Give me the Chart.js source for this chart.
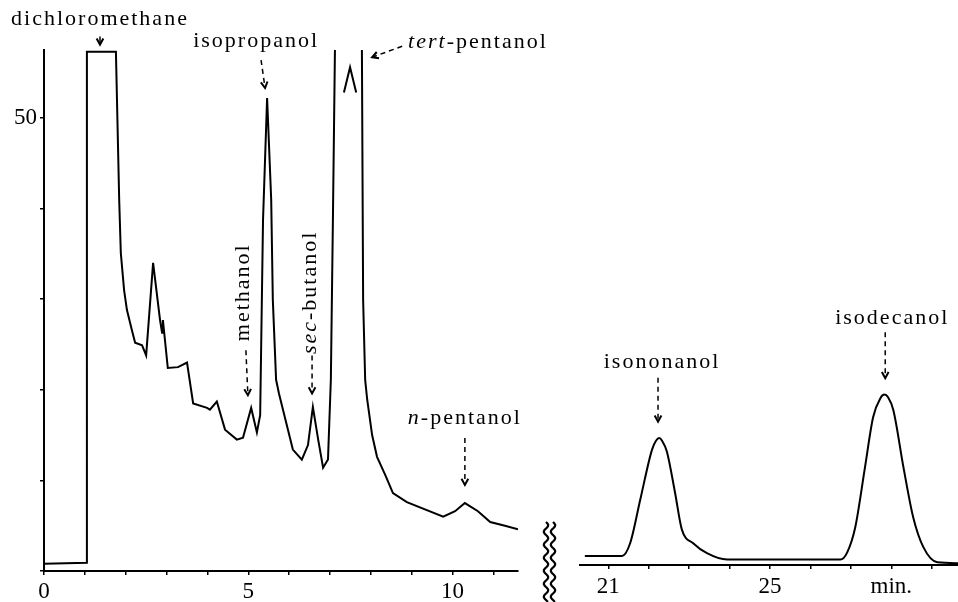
<!DOCTYPE html>
<html lang="en">
<head>
<meta charset="UTF-8">
<title>Gas chromatogram of alcohols</title>
<script src="https://cdn.jsdelivr.net/npm/chart.js@4.4.0/dist/chart.umd.min.js"></script>
<style>
    body { margin: 0; background: #fff; }
    #wrap { position: relative; width: 958px; height: 602px; overflow: hidden; }
    .box { position: absolute; top: 0; }
    #leftBox { left: 0; }
    #rightBox { left: 560px; }
</style>
</head>
<body>
<div id="wrap">
    <div class="box" id="leftBox"><canvas id="leftChart" width="560" height="602"></canvas></div>
    <div class="box" id="rightBox"><canvas id="rightChart" width="398" height="602"></canvas></div>
</div>

<script>
    // retention time (min) and detector signal, first part of the run
    const leftTime = [0, 1.05, 1.05, 1.76, 1.84, 1.88, 1.96, 2.03, 2.15, 2.23, 2.40, 2.50, 2.67, 2.84, 2.89, 2.91,
        3.03, 3.28, 3.50, 3.65, 3.99, 4.06, 4.23, 4.43, 4.72, 4.87, 5.07, 5.21, 5.29, 5.36, 5.46, 5.56, 5.60,
        5.68, 5.75, 6.09, 6.31, 6.46, 6.58, 6.71, 6.83, 6.95, 7.02, 7.07, 7.12, 7.13, 7.76, 7.78, 7.81, 7.86,
        7.91, 8.03, 8.15, 8.35, 8.54, 8.88, 9.77, 10.06, 10.30, 10.62, 10.92, 11.28, 11.60];
    const leftSignal = [0.8, 0.9, 57.3, 57.3, 41.0, 35.1, 31.0, 28.8, 26.6, 25.2, 24.9, 23.8, 34.0, 27.7, 26.3, 27.7,
        22.4, 22.5, 23.0, 18.5, 18.0, 17.8, 18.7, 15.6, 14.5, 14.7, 18.0, 15.3, 17.2, 38.7, 52.2, 41.0, 29.9,
        21.1, 19.6, 13.4, 12.3, 13.9, 18.1, 14.5, 11.4, 12.3, 21.1, 38.7, 57.5, 64, 64, 57.5, 29.9, 21.1,
        18.9, 15.0, 12.6, 10.6, 8.6, 7.6, 6.0, 6.6, 7.5, 6.6, 5.4, 5.0, 4.6];

    // pen return mark inside the off-scale tert-pentanol peak
    const penTime = [7.34, 7.49, 7.64];
    const penSignal = [52.8, 55.6, 52.8];

    // second part of the run, after the axis break
    const rightTime = [20.42, 21.34, 21.54, 21.79, 22.08, 22.18, 22.26, 22.33, 22.45, 22.65, 22.82, 23.10, 23.44,
        23.94, 26.74, 26.91, 27.11, 27.35, 27.55, 27.73, 27.83, 27.92, 28.05, 28.30, 28.54, 28.79, 29.14, 29.66];
    const rightSignal = [1.0, 1.0, 2.4, 7.2, 12.7, 13.7, 14.0, 13.7, 12.5, 8.0, 3.9, 2.4, 1.3,
        0.6, 0.6, 1.4, 4.2, 10.8, 16.3, 18.4, 18.8, 18.5, 17.1, 10.8, 5.3, 2.0, 0.3, 0.2];

    // ticks
    const leftXTicks = [0, 1, 2, 3, 4, 5, 6, 7, 8, 9, 10, 11];
    const leftXLabelAt = [0, 5, 10];
    const leftXLabels = ['0', '5', '10'];
    const rightXTicks = [21, 22, 23, 24, 25, 26, 27, 28, 29];
    const rightXLabelAt = [21, 25, 28];
    const rightXLabels = ['21', '25', 'min.'];
    const yTicks = [0, 10, 20, 30, 40, 50];
    const yLabelAt = [50];
    const yLabels = ['50'];

    const FONT_FAMILY = '"Liberation Serif", "DejaVu Serif", serif';
    Chart.defaults.font.family = FONT_FAMILY;
    Chart.defaults.color = '#000';

    // peak annotations: arrow tip in data units, tail and text offsets in px
    const leftNotes = [
        { parts: [['dichloromethane']], x: 1.37, y: 58.1, tail: [0, -8], text: [0, -25], solid: true },
        { parts: [['isopropanol']], x: 5.41, y: 53.3, tail: [-4, -28], text: [-9, -47] },
        { parts: [['tert', true], ['-pentanol']], x: 8.03, y: 56.7, tail: [30, -11], text: [36, -15], align: 'left' },
        { parts: [['methanol']], x: 4.99, y: 19.4, tail: [-2, -45], text: [-5, -103], rotate: true },
        { parts: [['sec', true], ['-butanol']], x: 6.56, y: 19.6, tail: [0, -38], text: [-2, -101], rotate: true },
        { parts: [['n', true], ['-pentanol']], x: 10.30, y: 9.5, tail: [0, -47], text: [0, -67] }
    ];
    const rightNotes = [
        { parts: [['isononanol']], x: 22.23, y: 15.8, tail: [0, -44], text: [4, -60] },
        { parts: [['isodecanol']], x: 27.85, y: 20.6, tail: [0, -46], text: [7, -60] }
    ];

    const toPoints = (xs, ys) => xs.map((x, i) => ({ x: x, y: ys[i] }));
    const labelFrom = (at, labels) => v => {
        const i = at.indexOf(v);
        return i >= 0 ? labels[i] : '';
    };

    function drawLabel(ctx, parts, x, y, rotate, align) {
        ctx.save();
        ctx.translate(x, y);
        if (rotate) ctx.rotate(-Math.PI / 2);
        ctx.letterSpacing = '2px';
        ctx.textBaseline = 'middle';
        ctx.textAlign = 'left';
        const fonts = parts.map(p => (p[1] ? 'italic ' : '') + '22px ' + FONT_FAMILY);
        const widths = parts.map((p, i) => { ctx.font = fonts[i]; return ctx.measureText(p[0]).width; });
        const total = widths.reduce((a, b) => a + b, 0);
        let cx = align === 'left' ? 0 : -total / 2;
        parts.forEach((p, i) => {
            ctx.font = fonts[i];
            ctx.fillText(p[0], cx, 0);
            cx += widths[i];
        });
        ctx.restore();
    }

    const peakLabels = {
        id: 'peakLabels',
        afterDraw(chart, args, opts) {
            const ctx = chart.ctx;
            const xs = chart.scales.x, ys = chart.scales.y;
            ctx.save();
            ctx.strokeStyle = '#000';
            ctx.fillStyle = '#000';
            opts.items.forEach(n => {
                const tx = xs.getPixelForValue(n.x), ty = ys.getPixelForValue(n.y);
                const sx = tx + n.tail[0], sy = ty + n.tail[1];
                ctx.lineWidth = 1.5;
                ctx.setLineDash(n.solid ? [] : [5, 4]);
                ctx.beginPath();
                ctx.moveTo(sx, sy);
                ctx.lineTo(tx, ty);
                ctx.stroke();
                ctx.setLineDash([]);
                const a = Math.atan2(ty - sy, tx - sx);
                ctx.lineWidth = 2;
                ctx.beginPath();
                ctx.moveTo(tx - 7 * Math.cos(a - 0.5), ty - 7 * Math.sin(a - 0.5));
                ctx.lineTo(tx, ty);
                ctx.lineTo(tx - 7 * Math.cos(a + 0.5), ty - 7 * Math.sin(a + 0.5));
                ctx.stroke();
                drawLabel(ctx, n.parts, tx + n.text[0], ty + n.text[1], n.rotate, n.align);
            });
            ctx.restore();
        }
    };

    // wavy double line for the broken time axis
    const axisBreak = {
        id: 'axisBreak',
        afterDraw(chart) {
            const ctx = chart.ctx, area = chart.chartArea;
            ctx.save();
            ctx.strokeStyle = '#000';
            ctx.lineWidth = 2.2;
            [28, 35].forEach(dx => {
                const x0 = area.right + dx;
                const y0 = area.bottom - 49;
                ctx.beginPath();
                for (let y = y0; y <= chart.height; y += 1) {
                    const x = x0 + 2.2 * Math.sin((y - y0) / 13 * 2 * Math.PI);
                    if (y === y0) ctx.moveTo(x, y); else ctx.lineTo(x, y);
                }
                ctx.stroke();
            });
            ctx.restore();
        }
    };

    const lineStyle = { showLine: true, borderColor: '#000', borderWidth: 2, pointRadius: 0, fill: false };
    const tickFont = { size: 23, family: FONT_FAMILY };
    const gridStyle = { drawOnChartArea: false, drawTicks: true, tickLength: 4, color: '#000', lineWidth: 1.5 };

    new Chart(document.getElementById('leftChart'), {
        type: 'scatter',
        data: {
            datasets: [
                Object.assign({ data: toPoints(leftTime, leftSignal), tension: 0 }, lineStyle),
                Object.assign({ data: toPoints(penTime, penSignal), tension: 0 }, lineStyle)
            ]
        },
        options: {
            responsive: false,
            animation: false,
            layout: { padding: { top: 50, right: 42, left: 0, bottom: 0 } },
            plugins: { legend: { display: false }, tooltip: { enabled: false }, peakLabels: { items: leftNotes } },
            scales: {
                x: {
                    type: 'linear', min: 0, max: 11.6,
                    afterBuildTicks: s => { s.ticks = leftXTicks.map(v => ({ value: v })); },
                    afterFit: s => { s.height = 31; },
                    ticks: { autoSkip: false, maxRotation: 0, padding: 3, font: tickFont, color: '#000',
                        callback: labelFrom(leftXLabelAt, leftXLabels) },
                    grid: gridStyle,
                    border: { color: '#000', width: 2 }
                },
                y: {
                    type: 'linear', min: 0, max: 57.5,
                    afterBuildTicks: s => { s.ticks = yTicks.map(v => ({ value: v })); },
                    afterFit: s => { s.width = 44; },
                    ticks: { autoSkip: false, padding: 3, font: tickFont, color: '#000',
                        callback: labelFrom(yLabelAt, yLabels) },
                    grid: gridStyle,
                    border: { color: '#000', width: 2 }
                }
            }
        },
        plugins: [peakLabels, axisBreak]
    });

    new Chart(document.getElementById('rightChart'), {
        type: 'scatter',
        data: {
            datasets: [
                Object.assign({ data: toPoints(rightTime, rightSignal), cubicInterpolationMode: 'monotone' }, lineStyle)
            ]
        },
        options: {
            responsive: false,
            animation: false,
            layout: { padding: { top: 50, right: 0, left: 20, bottom: 0 } },
            plugins: { legend: { display: false }, tooltip: { enabled: false }, peakLabels: { items: rightNotes } },
            scales: {
                x: {
                    type: 'linear', min: 20.3, max: 29.65,
                    afterBuildTicks: s => { s.ticks = rightXTicks.map(v => ({ value: v })); },
                    afterFit: s => { s.height = 37; },
                    ticks: { autoSkip: false, maxRotation: 0, padding: 4, font: tickFont, color: '#000',
                        callback: labelFrom(rightXLabelAt, rightXLabels) },
                    grid: gridStyle,
                    border: { color: '#000', width: 2 }
                },
                y: { type: 'linear', display: false, min: 0, max: 56.8 }
            }
        },
        plugins: [peakLabels]
    });
</script>
</body>
</html>
